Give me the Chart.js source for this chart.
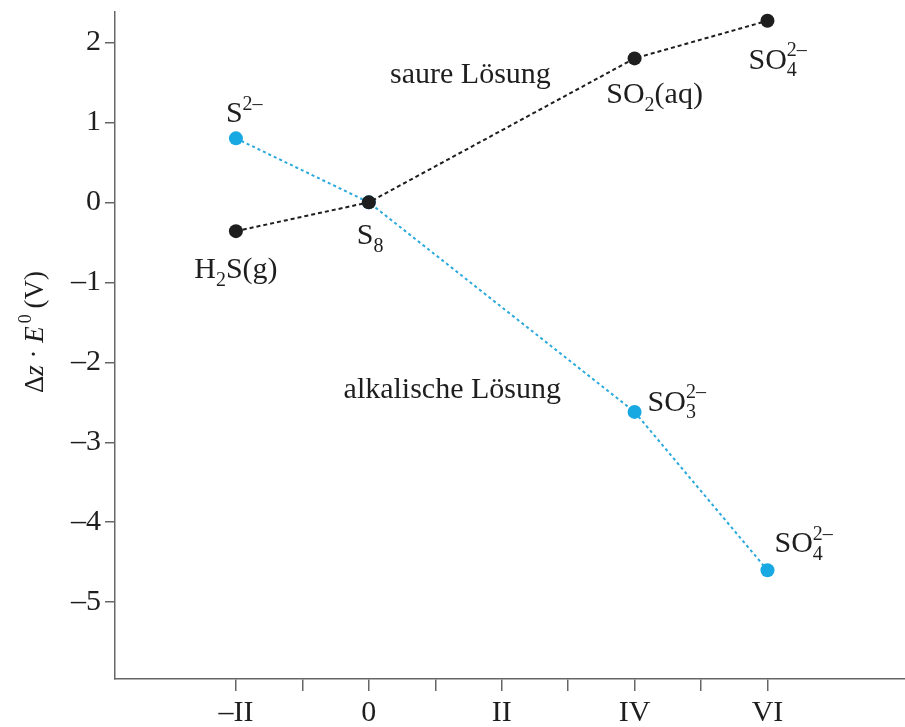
<!DOCTYPE html>
<html>
<head>
<meta charset="utf-8">
<script src="https://cdn.jsdelivr.net/npm/chart.js@4/dist/chart.umd.min.js"></script>
<style>
  html, body { margin: 0; padding: 0; background: #fff; }
  #wrap { width: 905px; height: 727px; }
</style>
</head>
<body>
<div id="wrap"><canvas id="chart"></canvas></div>
<script>
// oxidation states and Δz·E0 values
const oxStates = [-2, 0, 4, 6]
const acidValues = [-0.36, 0, 1.80, 2.27]
const acidSpecies = ['H_{2}S(g)', 'S_{8}', 'SO_{2}(aq)', 'SO_{4}^{2–}']
const alkValues = [0.80, 0, -2.62, -4.60]
const alkSpecies = ['S^{2–}', '', 'SO_{3}^{2–}', 'SO_{4}^{2–}']

const xTicks = [-2, -1, 0, 1, 2, 3, 4, 5, 6]
const xTickLabels = { '-2': '–II', '0': '0', '2': 'II', '4': 'IV', '6': 'VI' }
const yTicks = [-5, -4, -3, -2, -1, 0, 1, 2]

const regionNames = ['saure Lösung', 'alkalische Lösung']
const regionAnchors = [[0.32, 1.49], [-0.38, -2.45]]

const SERIF = '"Liberation Serif", "DejaVu Serif", serif'
const BLUE = '#18a8e2'
const INK = '#1e1e1e'

// label offsets in px from the point: [dx, dy, align]
const acidLabelPos = [[0, 47, 'center'], [-12, 42, 'left'], [20, 45, 'center'], [-19, 48, 'left']]
const alkLabelPos = [[-10, -16, 'left'], null, [13, -1, 'left'], [7, -18, 'left']]

function parseRich(str) {
    const parts = str.match(/(_\{[^}]*\}|\^\{[^}]*\}|[^_^]+)/g) || []
    return parts.map(p => {
        if (p[0] === '_') return { t: p.slice(2, -1), k: 'sub' }
        if (p[0] === '^') return { t: p.slice(2, -1), k: 'sup' }
        return { t: p, k: 'n' }
    })
}

function drawRich(ctx, str, x, y, align, size) {
    const parts = parseRich(str)
    const small = Math.round(size * 0.68)
    // measure, sub followed by sup are stacked
    let w = 0, prev = null, prevW = 0
    const layout = []
    parts.forEach(p => {
        ctx.font = (p.k === 'n' ? size : small) + 'px ' + SERIF
        const pw = ctx.measureText(p.t).width
        if (p.k === 'sup' && prev && prev.k === 'sub') {
            layout.push({ p, x: w - prevW })
            w = w - prevW + Math.max(prevW, pw)
        } else {
            layout.push({ p, x: w })
            w += pw
        }
        prev = p
        prevW = pw
    })
    const x0 = align === 'center' ? x - w / 2 : x
    ctx.textAlign = 'left'
    ctx.textBaseline = 'alphabetic'
    layout.forEach(l => {
        const dy = l.p.k === 'sub' ? size * 0.25 : l.p.k === 'sup' ? -size * 0.42 : 0
        ctx.font = (l.p.k === 'n' ? size : small) + 'px ' + SERIF
        ctx.fillText(l.p.t, x0 + l.x, y + dy)
    })
}

const labelPlugin = {
    id: 'labels',
    afterDatasetsDraw(chart) {
        const ctx = chart.ctx
        const xs = chart.scales.x, ys = chart.scales.y
        ctx.save()
        ctx.fillStyle = INK
        const groups = [[acidValues, acidSpecies, acidLabelPos], [alkValues, alkSpecies, alkLabelPos]]
        groups.forEach(([vals, names, pos]) => {
            vals.forEach((v, i) => {
                if (!pos[i] || !names[i]) return
                const px = xs.getPixelForValue(oxStates[i])
                const py = ys.getPixelForValue(v)
                drawRich(ctx, names[i], px + pos[i][0], py + pos[i][1], pos[i][2], 30)
            })
        })
        regionNames.forEach((name, i) => {
            ctx.font = '30px ' + SERIF
            ctx.textAlign = 'left'
            ctx.textBaseline = 'alphabetic'
            ctx.fillText(name, xs.getPixelForValue(regionAnchors[i][0]), ys.getPixelForValue(regionAnchors[i][1]))
        })

        // y axis title  Δz · E0 (V)
        ctx.translate(43, 393)
        ctx.rotate(-Math.PI / 2)
        const segs = [['Δ', ''], ['z', 'italic '], [' · ', ''], ['E', 'italic '], ['0', 'sup'], [' (V)', '']]
        let cx = 0
        segs.forEach(([t, st]) => {
            if (st === 'sup') {
                ctx.font = '18px ' + SERIF
                ctx.fillText(t, cx + 3, -12)
                cx += ctx.measureText(t).width + 2
            } else {
                ctx.font = st + '27px ' + SERIF
                ctx.fillText(t, cx, 0)
                cx += ctx.measureText(t).width
            }
        })
        ctx.restore()
    }
}

new Chart(document.getElementById('chart'), {
    type: 'line',
    data: {
        datasets: [
            {
                label: 'saure Lösung',
                data: oxStates.map((x, i) => ({ x, y: acidValues[i] })),
                borderColor: INK,
                backgroundColor: INK,
                borderWidth: 2,
                borderDash: [4, 3],
                pointRadius: 7,
                pointBorderWidth: 0,
                pointHoverRadius: 7,
                tension: 0
            },
            {
                label: 'alkalische Lösung',
                data: oxStates.map((x, i) => ({ x, y: alkValues[i] })),
                borderColor: '#2aa9dc',
                backgroundColor: BLUE,
                borderWidth: 2,
                borderDash: [3, 3],
                pointRadius: 7,
                pointBorderWidth: 0,
                pointHoverRadius: 7,
                tension: 0
            }
        ]
    },
    options: {
        responsive: true,
        maintainAspectRatio: false,
        animation: false,
        layout: { autoPadding: false, padding: { top: 12, right: 0, left: 0, bottom: 0 } },
        plugins: {
            legend: { display: false },
            tooltip: { enabled: false }
        },
        scales: {
            x: {
                type: 'linear',
                min: -3.82,
                max: 8.07,
                grid: { drawOnChartArea: false, drawTicks: true, tickLength: 12, color: '#666', lineWidth: 1.5 },
                border: { display: true, color: '#666', width: 1.5 },
                ticks: {
                    autoSkip: false,
                    maxRotation: 0,
                    padding: 4,
                    color: INK,
                    font: { family: SERIF, size: 30 },
                    callback: v => xTickLabels[String(v)] ?? ''
                },
                afterBuildTicks: s => { s.ticks = xTicks.map(v => ({ value: v })) },
                afterFit: s => { s.height = 48; s.paddingLeft = 0; s.paddingRight = 0 }
            },
            y: {
                type: 'linear',
                min: -5.96,
                max: 2.38,
                grid: { drawOnChartArea: false, drawTicks: true, tickLength: 10, color: '#666', lineWidth: 1.5 },
                border: { display: true, color: '#666', width: 1.5 },
                ticks: {
                    padding: 4,
                    color: INK,
                    font: { family: SERIF, size: 30 },
                    callback: v => v < 0 ? '–' + Math.abs(v) : String(v)
                },
                afterBuildTicks: s => { s.ticks = yTicks.map(v => ({ value: v })) },
                afterFit: s => { s.width = 115; s.paddingTop = 0; s.paddingBottom = 0 }
            }
        }
    },
    plugins: [labelPlugin]
})
</script>
</body>
</html>
